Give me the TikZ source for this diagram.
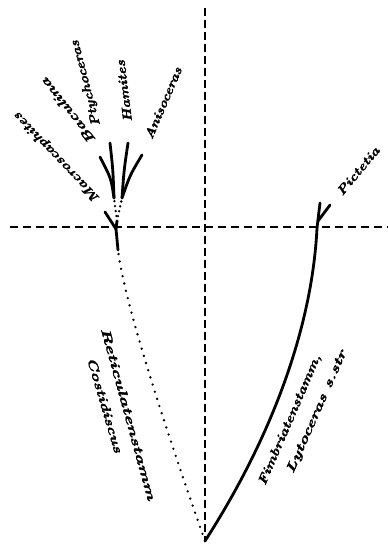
\documentclass[tikz,border=0pt]{standalone}
\usepackage{graphicx}
\usepackage{fontspec}
\newfontfamily\handfont{lmroman10-bolditalic.otf}[FakeBold=2.2]
\tikzset{
  stem/.style={line width=2.8pt, line cap=round},
  dotline/.style={line width=2.6pt, line cap=round, dash pattern=on 0pt off 7.5pt},
  dotshort/.style={line width=2.6pt, line cap=round, dash pattern=on 0pt off 5pt},
  vaxis/.style={line width=2.5pt, dash pattern=on 8pt off 4pt},
  haxis/.style={line width=2.8pt, dash pattern=on 8pt off 5pt},
  lab/.style={font=\fontsize{12.5}{12.5}\handfont, inner sep=0pt},
}
\newcommand\lw[2]{\resizebox{#1}{\height}{#2}}
\begin{document}
\begin{tikzpicture}[x=1pt,y=-1pt]
\useasboundingbox (0,0) rectangle (388,547);
% axes
\coordinate (vt) at (205,8);
\coordinate (vb) at (205,541);
\coordinate (hl) at (10,227);
\coordinate (hr) at (388,227);
\draw[vaxis] (vt) -- (vb);
\draw[haxis] (hl) -- (hr);
% root
\coordinate (root) at (205,541);
% right lineage (solid)
\coordinate (pj) at (317,228);
\coordinate (pk) at (318,221);
\coordinate (pl) at (320,203);
\coordinate (pr) at (330,205);
\draw[stem] (root) .. controls (270,440) and (312,330) .. (pj);
\draw[stem] (pj) -- (pl);
\draw[stem] (pk) -- (pr);
% left lineage (dotted)
\coordinate (lb) at (118,250);
\coordinate (lj) at (116,229);
\coordinate (ma) at (105,212);
\coordinate (lk) at (117,221);
\coordinate (d1) at (114,198);
\coordinate (d2) at (122,198);
\draw[dotline] (root) .. controls (180,470) and (125,310) .. (lb);
\draw[stem] (lb) -- (lj);
\draw[stem] (lj) -- (ma);
\draw[stem] (lj) -- (lk);
\draw[dotshort] (lk) -- (d1);
\draw[dotshort] (lk) -- (d2);
% fan
\coordinate (t1) at (100,157);
\coordinate (t2) at (110,143);
\coordinate (t3) at (128,143);
\coordinate (t4) at (142,155);
\draw[stem] (d1) .. controls (111,178) .. (t1);
\draw[stem] (d1) .. controls (113,170) .. (t2);
\draw[stem] (d2) .. controls (124,170) .. (t3);
\draw[stem] (d2) .. controls (130,175) .. (t4);
% labels
\node[lab, rotate=133.5] (macro) at (57,157) {\lw{119pt}{Macroscaphites}};
\node[lab, rotate=128.4] (bacu) at (68,111) {\lw{80pt}{Baculina}};
\node[lab, rotate=104.5] (ptych) at (86,83) {\lw{88pt}{Ptychoceras}};
\node[lab, rotate=97] (hami) at (124,91) {\lw{62pt}{Hamites}};
\node[lab, rotate=66.8] (aniso) at (163,103) {\lw{77pt}{Anisoceras}};
\node[lab, rotate=50] (pict) at (358,171) {\lw{59pt}{Pictetia}};
\node[lab, rotate=-74.7] (retic) at (128.5,414) {\lw{178pt}{Reticulatenstamm}};
\node[lab, rotate=-73.6] (costi) at (105,405) {\lw{99pt}{Costidiscus}};
\node[lab, rotate=66.7] (fimb) at (290,420) {\lw{141pt}{Fimbriatenstamm,}};
\node[lab, rotate=66.2] (lyto) at (317,412) {\lw{133pt}{Lytoceras s.str}};
\end{tikzpicture}
\end{document}
